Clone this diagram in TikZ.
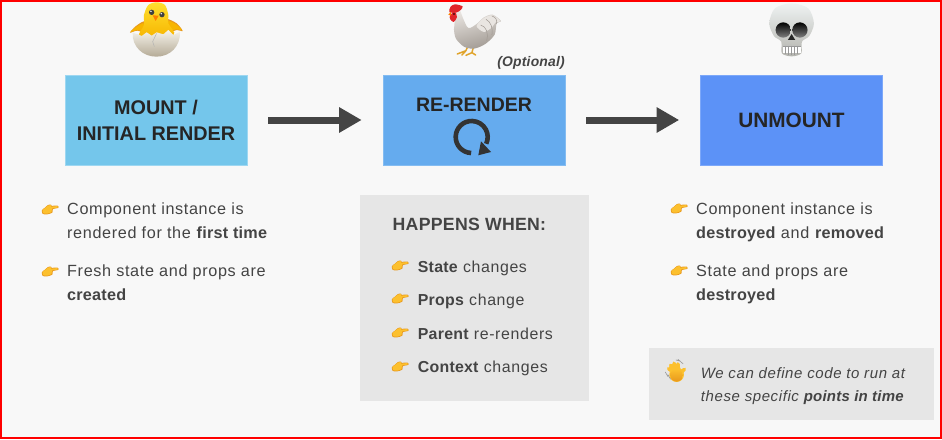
\documentclass[tikz,border=0pt]{standalone}
\usepackage{fontspec}
\setmainfont{Liberation Sans}[LetterSpace=4,BoldFeatures={LetterSpace=1.5},BoldItalicFeatures={LetterSpace=1.5}]
\newfontfamily\headfont{Liberation Sans}[LetterSpace=0]
\usetikzlibrary{arrows.meta,calc}
\definecolor{pagebg}{HTML}{F8F8F8}
\definecolor{panel}{HTML}{E6E6E6}
\definecolor{ink}{HTML}{444444}
\definecolor{dark}{HTML}{252525}
\definecolor{icon}{HTML}{333333}
\definecolor{boxa}{HTML}{74C6EB}
\definecolor{boxb}{HTML}{65ABEE}
\definecolor{boxc}{HTML}{5C92F7}
\definecolor{handy}{HTML}{FCC02E}
\definecolor{handd}{HTML}{E8981C}
\definecolor{chicktop}{HTML}{FFDF2E}
\definecolor{chickbot}{HTML}{F7B500}
\definecolor{shelltop}{HTML}{F6F3EA}
\definecolor{shellbot}{HTML}{B5AB97}
\definecolor{henlight}{HTML}{E9E5E1}
\definecolor{hendark}{HTML}{A09992}
\definecolor{combred}{HTML}{E0242A}
\definecolor{legy}{HTML}{E0A42C}
\definecolor{bonetop}{HTML}{EEF2F2}
\definecolor{bonebot}{HTML}{B4B4AE}
\tikzset{
  lifebox/.style={minimum width=182,minimum height=90,inner sep=0,line width=.6pt,text=dark,align=center},
  stagearrow/.style={draw=ink,line width=7pt,-{Triangle[length=22.5pt,width=24pt]},shorten <=21pt,shorten >=21pt},
  para/.style={inner sep=0,anchor=base west,align=left,text=ink,font=\fontsize{16.2}{24}\selectfont},
  item/.style={inner sep=0,anchor=base west,text=ink,font=\fontsize{15.9}{24}\selectfont},
  pics/pointhand/.style={code={
    \fill[handd] plot[smooth cycle] coordinates {(0,6)(3,3.6)(6,1)(9,.6)(9.6,1.8)(15.6,1.6)(16.4,3.8)(10.8,5.2)(10.4,8.6)(5,10.4)(.6,9.8)};
    \fill[handy] plot[smooth cycle] coordinates {(.5,6.2)(3,4)(6,1.6)(8.8,1.2)(9,2.6)(15,2.2)(15.6,3.5)(10,4.6)(9.6,8)(5,9.7)(1.2,9.1)};
  }},
}
\begin{document}
\begin{tikzpicture}[x=1pt,y=-1pt]
\useasboundingbox (0,0) rectangle (942,439);
\fill[pagebg] (0,0) rectangle (942,439);
\fill[panel] (359.5,195) rectangle (588.7,400.7);
\fill[panel] (649,348) rectangle (934,420);
\node[lifebox,fill=boxa,draw=boxa!70!white,font=\fontsize{19.8}{26}\selectfont\headfont\bfseries] (mount) at (156,120) {MOUNT /\\INITIAL RENDER};
\node[lifebox,fill=boxb,draw=boxb!80!white] (rerender) at (474,120) {};
\node[lifebox,fill=boxc,draw=boxc!80!white,font=\fontsize{20.8}{26}\selectfont\headfont\bfseries] (unmount) at (791.5,120) {UNMOUNT};
\node[inner sep=0,anchor=base,font=\fontsize{19.5}{24}\selectfont\headfont\bfseries,text=dark] (rrlabel) at (474,111.7) {RE-RENDER};
\node[inner sep=0,anchor=base east,font=\fontsize{13.9}{16}\selectfont\bfseries\itshape,text=ink] (optional) at (565,66.7) {(Optional)};
\draw[stagearrow] (mount) -- (rerender);
\draw[stagearrow] (rerender) -- (unmount);
% refresh icon
\draw[icon,line width=4.6pt] (471.7,137) ++(92:16) arc[start angle=92,end angle=385,radius=16];
\fill[icon] (478.3,155.3) -- (491,152) -- (481,141.3) -- cycle;
% left column
\pic at (42,204) {pointhand};
\node[para] (a1) at (67,238.7) {Component instance is\\rendered for the \textbf{first time}};
\pic at (42,266) {pointhand};
\node[para] (a2) at (67,300) {Fresh state and props are\\\textbf{created}};
% middle column
\node[inner sep=0,anchor=base west,text=ink,font=\fontsize{17.7}{20}\selectfont\bfseries] (hw) at (392.5,230.7) {HAPPENS WHEN:};
\pic at (392,260) {pointhand};
\node[item] (m1) at (417.7,272) {\textbf{State} changes};
\pic at (392,293) {pointhand};
\node[item] (m2) at (417.7,305) {\textbf{Props} change};
\pic at (392,327) {pointhand};
\node[item] (m3) at (417.7,339) {\textbf{Parent} re-renders};
\pic at (392,361) {pointhand};
\node[item] (m4) at (417.7,372.7) {\textbf{Context} changes};
% right column
\pic at (671,203) {pointhand};
\node[para] (c1) at (696,238.7) {Component instance is\\\textbf{destroyed} and \textbf{removed}};
\pic at (671,265) {pointhand};
\node[para] (c2) at (696,300) {State and props are\\\textbf{destroyed}};
\node[para,font=\fontsize{15}{23}\selectfont\itshape] (note) at (700.7,401) {We can define code to run at\\these specific \textbf{points in time}};
% chick
\begin{scope}[x=.3333pt,y=-.3333pt]
\fill[handd] plot[smooth cycle] coordinates {(390,98)(408,78)(436,64)(444,100)(412,92)};
\fill[handd] plot[smooth cycle] coordinates {(548,93)(530,70)(498,58)(494,100)(530,90)};
\fill[chickbot] plot[smooth cycle] coordinates {(392,96)(410,80)(432,70)(440,96)(412,90)};
\fill[chickbot] plot[smooth cycle] coordinates {(545,90)(528,73)(505,64)(500,96)(528,88)};
\shade[top color=chicktop,bottom color=chickbot] plot[smooth cycle] coordinates {(432,45)(445,15)(470,7)(495,15)(505,45)(505,70)(520,105)(420,110)(432,75)};
\fill[black!75] (455,37) circle (8) (486,44) circle (8);
\fill[white] (453,34) circle (2.5) (484,41) circle (2.5);
\fill[orange] (458,46) -- (476,47) -- (467,63) -- cycle;
\shade[top color=shelltop,bottom color=shellbot] (398,98) -- (415,103) -- (425,108) -- (440,97) -- (455,107) -- (470,97) -- (490,103) -- (505,90) -- (520,105) -- (540,95) .. controls (542,140) and (510,170) .. (469,170) .. controls (428,170) and (396,140) .. (398,98) -- cycle;
\draw[black!30,line width=.5pt] (470,100) -- (458,125) -- (463,140);
% rooster
\begin{scope}[shift={(1080,0)}]
\draw[legy,line width=1.5pt,line cap=round,line join=round] (325,135) -- (318,152) -- (292,162) (318,152) -- (306,165) (342,135) -- (336,158) -- (318,166) (336,158) -- (347,165);
\shade[top color=henlight,bottom color=hendark,shading angle=15] plot[smooth cycle] coordinates {(272,42)(298,30)(308,52)(325,84)(350,72)(372,52)(398,44)(423,63)(410,70)(404,104)(376,132)(342,146)(312,140)(288,116)(282,88)(284,64)};
\fill[henlight] plot[smooth cycle] coordinates {(350,78)(372,54)(398,46)(421,63)(406,68)(396,82)(372,96)};
\draw[hendark,line width=.5pt] (378,58) .. controls (392,64) and (400,85) .. (396,105) (362,75) .. controls (380,80) and (386,100) .. (380,122) (396,48) .. controls (408,52) and (412,60) .. (410,72);
\fill[combred] plot[smooth cycle] coordinates {(268,36)(272,20)(285,13)(308,19)(302,30)(288,38)};
\fill[combred] plot[smooth cycle] coordinates {(270,46)(285,36)(291,52)(281,66)(271,58)};
\fill[orange] (272,36) -- (265,44) -- (274,47) -- cycle;
\fill[black] (282,42) circle (2.5);
\end{scope}
% skull
\begin{scope}[shift={(1980,0)}]
\shade[top color=bonetop,bottom color=bonebot] plot[smooth cycle] coordinates {(328,70)(345,25)(395,10)(445,25)(462,70)(448,108)(426,125)(424,160)(395,169)(366,160)(364,125)(342,108)};
\shade[top color=black,bottom color=gray] (370,90) circle (23);
\shade[top color=black,bottom color=gray] (420,90) circle (23);
\fill[black!85] (395,102) -- (406,120) -- (384,120) -- cycle;
\fill[white] (368,138) rectangle (422,160);
\draw[gray!80,line width=.4pt] (368,138) -- (422,138) (377,138) -- (377,162) (386,138) -- (386,165) (395,138) -- (395,166) (404,138) -- (404,165) (413,138) -- (413,162);
\end{scope}
% waving hand
\begin{scope}[shift={(1920,1020)}]
\draw[handy,line width=3.6pt,line cap=round] (105,100) -- (86,86) (108,98) -- (92,76) (112,96) -- (102,70) (116,96) -- (114,72) (118,104) -- (133,88);
\fill[handy] (110,104) circle (22);
\shade[top color=handy,bottom color=handd] (110,106) circle (19);
\draw[gray!80,line width=.6pt] (76,96) -- (84,110) (84,104) -- (92,118) (108,60) -- (122,64) (114,58) -- (130,72);
\end{scope}
\end{scope}
% red frame
\draw[red,line width=2pt] (1,1) rectangle (941,438);
\end{tikzpicture}
\end{document}
